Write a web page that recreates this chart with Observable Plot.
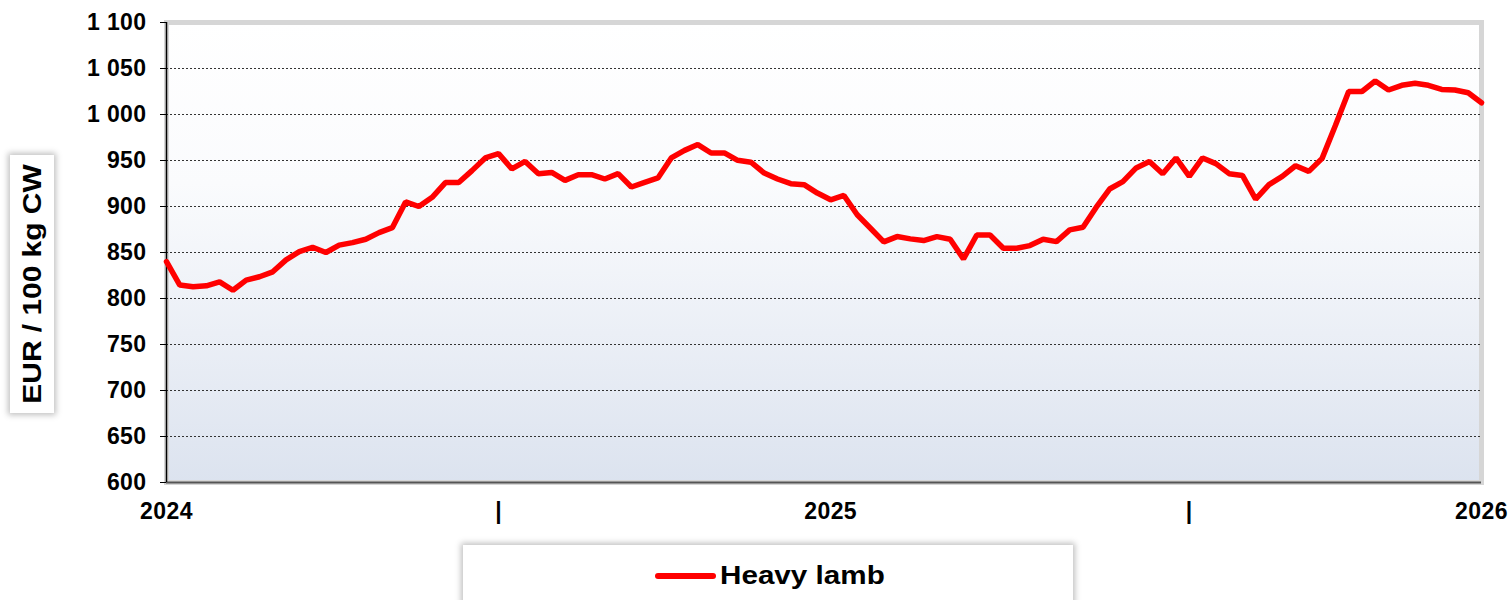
<!DOCTYPE html>
<html>
<head>
<meta charset="utf-8">
<script src="https://cdn.jsdelivr.net/npm/d3@7"></script>
<script src="https://cdn.jsdelivr.net/npm/@observablehq/plot@0.6"></script>
<style>
  body { margin: 0; background: #fff; font-family: "Liberation Sans", Arial, sans-serif; }
  #wrap { position: relative; width: 1512px; height: 600px; overflow: hidden; }
  #chart { position: absolute; left: 0; top: 0; }
  #ytitle { position: absolute; left: 10px; top: 155px; width: 44px; height: 258px; background: #fff;
            box-shadow: 0 0 6px 2px rgba(0,0,0,0.25); }
  #ytitle span { position: absolute; left: 50%; top: 50%; white-space: nowrap; font-weight: bold; font-size: 26px;
            transform: translate(-50%, -50%) rotate(-90deg) scaleX(1.15); color: #000; }
  #legend { position: absolute; left: 463px; top: 545px; width: 610px; height: 90px; background: #fff;
            box-shadow: 0 0 6px 2px rgba(0,0,0,0.25); }
  #legend .sw { position: absolute; left: 192px; top: 28px; width: 61px; height: 6px; border-radius: 3px; background: #ff0000; }
  #legend .lt { position: absolute; left: 257px; top: 14px; line-height: 32px; font-size: 26px; font-weight: bold;
            transform-origin: left center; transform: scaleX(1.14); white-space: nowrap; color: #000; }
  svg text { letter-spacing: 0.4px; }
</style>
</head>
<body>
<div id="wrap">
  <div id="chart"></div>
  <div id="ytitle"><span>EUR / 100 kg CW</span></div>
  <div id="legend"><div class="sw"></div><div class="lt">Heavy lamb</div></div>
</div>
<script>
// Weekly heavy lamb price, EUR / 100 kg CW (2024 – start of 2026)
const prices = [
  840, 814.6, 812.7, 813.8, 818, 809, 820, 823.6, 829, 842,
  851, 855.7, 850, 858, 860.7, 864.4, 871.6, 877, 905, 900,
  910, 926, 926, 939, 952.8, 957.5, 940.8, 949, 935.7, 937,
  928.4, 934.6, 934.6, 929.9, 935.7, 921.2, 926.2, 931, 952.8, 961,
  967.3, 958.2, 958.2, 950.2, 948.2, 936.4, 929.9, 924.8, 923.7, 914.6,
  907.3, 912, 891, 876.4, 861.5, 867.3, 864.8, 863, 867.3, 864.4,
  843, 869, 869, 854.6, 854.6, 857.5, 864.4, 861.8, 874.6, 877.5,
  899.3, 919, 927, 941.9, 949, 935.7, 952.8, 932.7, 952.8, 946.6,
  935.7, 933.8, 908, 923.7, 932.7, 944.3, 938.2, 952.3, 988, 1025,
  1025, 1036.4, 1026.6, 1031.7, 1033.9, 1031.7, 1027.3, 1026.6, 1023.7, 1012.8
];
const weekIndex = d3.range(prices.length);
const xTickPos = [0, 25, 50, 77, 99];
const xTickLabels = ["2024", "|", "2025", "|", "2026"];
const yTicks = [600, 650, 700, 750, 800, 850, 900, 950, 1000, 1050, 1100];
const gridValues = [650, 700, 750, 800, 850, 900, 950, 1000, 1050];

const data = weekIndex.map((i) => ({week: i, price: prices[i]}));
const fmtY = (d) => d >= 1000 ? d3.format(",")(d).replace(",", " ") : String(d);

const chart = Plot.plot({
  width: 1512,
  height: 530,
  marginLeft: 166,
  marginRight: 31,
  marginTop: 22,
  marginBottom: 48,
  x: {domain: [0, 99]},
  y: {domain: [600, 1100]},
  style: {fontFamily: "'Liberation Sans', Arial, sans-serif", background: "transparent", color: "#000"},
  marks: [
    Plot.frame({fill: "url(#bgGrad)", stroke: "#d6d6d6", strokeWidth: 5}),
    Plot.ruleY(gridValues, {stroke: "#333", strokeDasharray: "2,2", strokeWidth: 1}),
    Plot.axisY({ticks: yTicks, tickFormat: fmtY, tickSize: 6, tickPadding: 14, fontSize: 23, fontWeight: "bold", label: null}),
    Plot.axisX({ticks: xTickPos, tickFormat: (d) => xTickLabels[xTickPos.indexOf(d)], tickSize: 0, tickPadding: 20,
                fontSize: 23, fontWeight: "bold", label: null}),
    Plot.ruleY([600], {stroke: "#555", strokeWidth: 2}),
    Plot.ruleX([0], {stroke: "#000", strokeWidth: 1.5}),
    Plot.line(data, {x: "week", y: "price", stroke: "#ff0000", strokeWidth: 5.5, strokeLinejoin: "miter"})
  ]
});

const ns = "http://www.w3.org/2000/svg";
const defs = document.createElementNS(ns, "defs");
defs.innerHTML = '<linearGradient id="bgGrad" x1="0" y1="0" x2="0" y2="1">' +
  '<stop offset="0" stop-color="#ffffff"/><stop offset="0.35" stop-color="#fafbfd"/>' +
  '<stop offset="1" stop-color="#dce3ef"/></linearGradient>';
chart.insertBefore(defs, chart.firstChild);
document.getElementById("chart").appendChild(chart);
</script>
</body>
</html>
